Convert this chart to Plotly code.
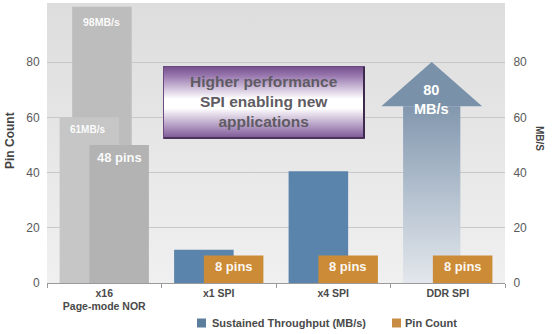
import base64
import plotly.graph_objects as go

# ---------------- data ----------------
categories = ["x16<br>Page-mode NOR", "x1 SPI", "x4 SPI", "DDR SPI"]
throughput_height = [60, 12, 40.5, 80]          # drawn heights (MB/s bars)
throughput_labels = ["61MB/s", "", "", "80<br>MB/s"]
nor_peak_height = 100
nor_peak_label = "98MB/s"
pin_height = [50, 10, 10, 10]                   # drawn heights (pin bars)
pin_labels = ["48 pins", "8 pins", "8 pins", "8 pins"]
y_ticks = [0, 20, 40, 60, 80]
callout_text = "Higher performance<br>SPI enabling new<br>applications"
legend_names = ["Sustained Throughput (MB/s)", "Pin Count"]

# ---------------- style ----------------
FONT = "Liberation Sans, Arial, sans-serif"
W, H = 553, 334
L, R, T, B = 47, 48, 3, 51
PW, PH = W - L - R, H - T - B
YMAX = 101.4
x = list(range(len(categories)))

BAR_W = 0.52
TP_OFF = -0.39
PIN_OFF = -0.13
PEAK_OFF = -0.28

gray_peak = "#bdbdbd"
gray_tp = "#c6c6c6"
gray_pin = "#b3b3b3"
blue = "#5a84ab"
orange = "#cc8c37"


def px_to_paper_x(px):
    return (px - L) / PW


def px_to_paper_y(py):
    return (H - B - py) / PH


def svg_uri(svg):
    return "data:image/svg+xml;base64," + base64.b64encode(svg.encode()).decode()


fig = go.Figure()

# ---- DDR arrow (main subplot, drawn beneath the bars subplot) ----
i_ddr = 3
v = throughput_height[i_ddr]
head_base = v * 0.8
shaft_l = i_ddr + TP_OFF
shaft_r = shaft_l + 0.5
mid = (shaft_l + shaft_r) / 2
head_half = 0.44
fig.add_trace(go.Scatter(
    x=[shaft_l, shaft_r, shaft_r, shaft_l, shaft_l],
    y=[0, 0, head_base, head_base, 0],
    mode="lines", line=dict(width=0), fill="toself",
    fillgradient=dict(type="vertical",
                      colorscale=[[0, "#e3e7ec"], [0.5, "#b4c1cf"], [1, "#8297ae"]]),
    hoverinfo="skip", showlegend=False, xaxis="x", yaxis="y"))
fig.add_trace(go.Scatter(
    x=[mid - head_half, mid + head_half, mid, mid - head_half],
    y=[head_base, head_base, v, head_base],
    mode="lines", line=dict(width=0), fill="toself", fillcolor="#7a91aa",
    hoverinfo="skip", showlegend=False, xaxis="x", yaxis="y"))

# ---- bars (overlay subplot x / y2) ----
fig.add_trace(go.Bar(
    x=[x[0]], y=[nor_peak_height], offset=PEAK_OFF, width=BAR_W,
    marker=dict(color=gray_peak, line=dict(width=0)),
    showlegend=False, hoverinfo="skip", xaxis="x", yaxis="y2"))
fig.add_trace(go.Bar(
    x=x[:3], y=throughput_height[:3], offset=TP_OFF, width=BAR_W,
    marker=dict(color=[gray_tp, blue, blue], line=dict(width=0)),
    name=legend_names[0], showlegend=False, hoverinfo="skip", xaxis="x", yaxis="y2"))
fig.add_trace(go.Bar(
    x=x, y=pin_height, offset=PIN_OFF, width=BAR_W,
    marker=dict(color=[gray_pin, orange, orange, orange], line=dict(width=0)),
    name=legend_names[1], showlegend=False, hoverinfo="skip", xaxis="x", yaxis="y2"))

annotations = []
white = "rgba(255,255,255,0.95)"
# peak label
annotations.append(dict(x=x[0] + PEAK_OFF + BAR_W / 2, y=nor_peak_height, xref="x", yref="y",
                        text=nor_peak_label, showarrow=False, yanchor="middle", yshift=-15,
                        font=dict(family=FONT, size=10.5, color=white, weight="bold")))
# throughput labels
annotations.append(dict(x=x[0] + TP_OFF + BAR_W / 2 - 0.02, y=throughput_height[0], xref="x", yref="y",
                        text=throughput_labels[0], showarrow=False, yanchor="middle", yshift=-12,
                        font=dict(family=FONT, size=10, color=white, weight="bold")))
annotations.append(dict(x=mid, y=throughput_height[3], xref="x", yref="y",
                        text=throughput_labels[3], showarrow=False, yanchor="middle", yshift=-37,
                        font=dict(family=FONT, size=14.5, color="white", weight="bold")))
# pin labels
for i, lab in enumerate(pin_labels):
    annotations.append(dict(x=x[i] + PIN_OFF + BAR_W / 2, y=pin_height[i], xref="x", yref="y",
                            text=lab, showarrow=False, yanchor="middle",
                            yshift=-13 if i == 0 else -11.5,
                            font=dict(family=FONT, size=13, color=white, weight="bold")))

# callout text
annotations.append(dict(x=px_to_paper_x(264), y=px_to_paper_y(101), xref="paper", yref="paper",
                        text=callout_text, showarrow=False, xanchor="center", yanchor="middle",
                        font=dict(family=FONT, size=15.5, color="#5f5b63", weight="bold")))
# axis titles
annotations.append(dict(x=px_to_paper_x(10), y=px_to_paper_y(141), xref="paper", yref="paper",
                        text="Pin Count", textangle=-90, showarrow=False,
                        xanchor="center", yanchor="middle",
                        font=dict(family=FONT, size=12, color="#444444", weight="bold")))
annotations.append(dict(x=px_to_paper_x(540), y=px_to_paper_y(138), xref="paper", yref="paper",
                        text="MB/S", textangle=90, showarrow=False,
                        xanchor="center", yanchor="middle",
                        font=dict(family=FONT, size=10, color="#444444", weight="bold")))
# legend
shapes = []
leg_items = [(197, 212, "#5c7d9c", legend_names[0]), (392, 405, "#c98c45", legend_names[1])]
for sq_x, tx, col, name in leg_items:
    shapes.append(dict(type="rect", xref="paper", yref="paper",
                       x0=px_to_paper_x(sq_x), x1=px_to_paper_x(sq_x + 9),
                       y0=px_to_paper_y(327.5), y1=px_to_paper_y(318.5),
                       fillcolor=col, line=dict(width=0)))
    annotations.append(dict(x=px_to_paper_x(tx), y=px_to_paper_y(323), xref="paper", yref="paper",
                            text=name, showarrow=False, xanchor="left", yanchor="middle",
                            xshift=-2,
                            font=dict(family=FONT, size=11, color="#4a4a4a", weight="bold")))

# background gradient and callout box (decorative images)
bg_svg = ('<svg xmlns="http://www.w3.org/2000/svg" width="458" height="280" viewBox="0 0 458 280" '
          'preserveAspectRatio="none"><defs><linearGradient id="g" x1="0" y1="0" x2="0" y2="1">'
          '<stop offset="0" stop-color="#dddddd"/><stop offset="1" stop-color="#f0f0f0"/>'
          '</linearGradient></defs><rect width="458" height="280" fill="url(#g)"/></svg>')
box_w, box_h = 202, 73
box_svg = (f'<svg xmlns="http://www.w3.org/2000/svg" width="{box_w}" height="{box_h}" '
           f'viewBox="0 0 {box_w} {box_h}" preserveAspectRatio="none"><defs>'
           '<linearGradient id="p" x1="0" y1="0" x2="0" y2="1">'
           '<stop offset="0" stop-color="#74508b"/><stop offset="0.12" stop-color="#9674ad"/>'
           '<stop offset="0.45" stop-color="#ffffff"/><stop offset="0.58" stop-color="#ffffff"/>'
           '<stop offset="0.88" stop-color="#a184b5"/><stop offset="1" stop-color="#7a5592"/>'
           '</linearGradient></defs>'
           f'<rect x="0.5" y="0.5" width="{box_w-1}" height="{box_h-1}" fill="url(#p)" '
           'stroke="#6b4a80" stroke-width="1"/>'
           f'<line x1="{box_w-1}" y1="1" x2="{box_w-1}" y2="{box_h-1}" stroke="#3e2a4a" stroke-width="2"/>'
           f'<line x1="1" y1="{box_h-1}" x2="{box_w-1}" y2="{box_h-1}" stroke="#4a3358" stroke-width="2"/>'
           '</svg>')
images = [
    dict(source=svg_uri(bg_svg), xref="paper", yref="paper", x=0, y=1, sizex=1, sizey=1,
         sizing="stretch", layer="below", xanchor="left", yanchor="top"),
    dict(source=svg_uri(box_svg), xref="paper", yref="paper",
         x=px_to_paper_x(163), y=px_to_paper_y(66),
         sizex=box_w / PW, sizey=box_h / PH,
         sizing="stretch", layer="above", xanchor="left", yanchor="top"),
]

tick_font = dict(family=FONT, size=12, color="#5a5a5a")
fig.update_layout(
    width=W, height=H,
    margin=dict(l=L, r=R, t=T, b=B),
    paper_bgcolor="white", plot_bgcolor="white",
    barmode="overlay", showlegend=False, hovermode=False,
    xaxis=dict(range=[-0.5, 3.5], tickvals=x, ticktext=categories, ticks="", showgrid=False,
               zeroline=False, showline=True, linecolor="#9a9a9a", linewidth=1,
               tickfont=dict(family=FONT, size=10.5, color="#4a4a4a", weight="bold"),
               minor=dict(tickvals=[-0.5, 0.5, 1.5, 2.5, 3.5], ticks="outside", ticklen=4,
                          tickcolor="#9a9a9a", showgrid=False),
               fixedrange=True),
    yaxis=dict(range=[0, YMAX], tickvals=y_ticks, showgrid=True, gridcolor="#c8c8c8",
               gridwidth=1, zeroline=False, showline=False, ticks="outside", ticklen=4,
               tickcolor="rgba(0,0,0,0)", tickfont=tick_font, fixedrange=True),
    yaxis2=dict(range=[0, YMAX], tickvals=y_ticks, overlaying="y", side="right", showgrid=False,
                zeroline=False, showline=False, ticks="outside", ticklen=5,
                tickcolor="rgba(0,0,0,0)", tickfont=tick_font, fixedrange=True),
    annotations=annotations, shapes=shapes, images=images,
)

fig.write_html("out.html")
